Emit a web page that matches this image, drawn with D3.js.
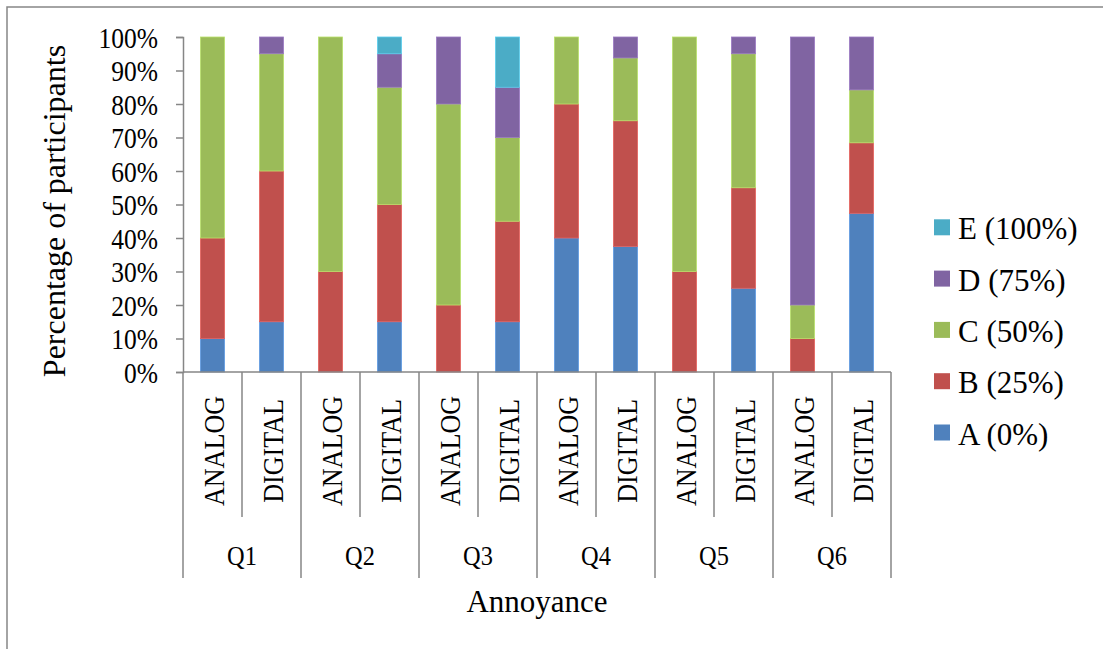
<!DOCTYPE html>
<html>
<head>
<meta charset="utf-8">
<script src="https://cdn.jsdelivr.net/npm/d3@7"></script>
<style>
  html, body { margin: 0; padding: 0; background: #ffffff; }
  svg { display: block; }
  text { font-family: "Liberation Serif", "Times New Roman", serif; fill: #000; }
</style>
</head>
<body>
<svg id="chart" width="1103" height="649"></svg>
<script>
// Questions and the two conditions asked for each
const groups = ["Q1", "Q2", "Q3", "Q4", "Q5", "Q6"];
const conditions = ["ANALOG", "DIGITAL"];

// Answer levels, bottom to top of each stack
const seriesNames = ["A (0%)", "B (25%)", "C (50%)", "D (75%)", "E (100%)"];
const seriesColors = ["#4F81BD", "#C0504D", "#9BBB59", "#8064A2", "#4BACC6"];

// Share of participants (%) per bar: Q1 ANALOG, Q1 DIGITAL, Q2 ANALOG, ...
const valuesA = [10, 15, 0, 15, 0, 15, 40, 37.5, 0, 25, 0, 47.37];
const valuesB = [30, 45, 30, 35, 20, 30, 40, 37.5, 30, 30, 10, 21.05];
const valuesC = [60, 35, 70, 35, 60, 25, 20, 18.75, 70, 40, 10, 15.79];
const valuesD = [0, 5, 0, 10, 20, 15, 0, 6.25, 0, 5, 80, 15.79];
const valuesE = [0, 0, 0, 5, 0, 15, 0, 0, 0, 0, 0, 0];

const yTicks = [0, 10, 20, 30, 40, 50, 60, 70, 80, 90, 100];

const seriesValues = [valuesA, valuesB, valuesC, valuesD, valuesE];

// One row per bar
const bars = [];
groups.forEach((g, gi) => {
  conditions.forEach((c, ci) => {
    const i = gi * conditions.length + ci;
    const row = { key: g + "|" + c, group: g, condition: c };
    seriesNames.forEach((s, si) => { row[s] = seriesValues[si][i]; });
    bars.push(row);
  });
});

const svg = d3.select("#chart");

const plot = { left: 183, right: 891, top: 37, bottom: 372 };
const axisColor = "#868686";

// Outer chart frame
svg.append("rect")
  .attr("x", 7).attr("y", 7)
  .attr("width", 1300).attr("height", 800)
  .attr("fill", "#fff")
  .attr("stroke", axisColor)
  .attr("stroke-width", 1.5);

const x = d3.scaleBand()
  .domain(bars.map(d => d.key))
  .range([plot.left, plot.right])
  .paddingInner(1 - 24 / 59)
  .paddingOuter((1 - 24 / 59) / 2);

const y = d3.scaleLinear().domain([0, 100]).range([plot.bottom, plot.top]);

const stack = d3.stack().keys(seriesNames);
const stacked = stack(bars);

// Stacked bars
const layers = svg.append("g").selectAll("g")
  .data(stacked)
  .join("g")
  .attr("fill", (d, i) => seriesColors[i])
  .attr("stroke", (d, i) => d3.color(seriesColors[i]).brighter(0.5))
  .attr("stroke-width", 0.8);

layers.selectAll("rect")
  .data(d => d.filter(s => s[1] - s[0] > 0))
  .join("rect")
  .attr("x", d => x(d.data.key))
  .attr("width", x.bandwidth())
  .attr("y", d => y(d[1]))
  .attr("height", d => y(d[0]) - y(d[1]));

// Y axis
const yAxis = svg.append("g")
  .attr("transform", `translate(${plot.left},0)`)
  .call(d3.axisLeft(y).tickValues(yTicks).tickSize(7).tickPadding(0).tickFormat(d => d + "%"));

yAxis.select(".domain").attr("stroke", axisColor).attr("stroke-width", 1.5);
yAxis.selectAll(".tick line").attr("stroke", axisColor).attr("stroke-width", 1.5);
yAxis.selectAll(".tick text")
  .attr("font-family", "Liberation Serif, Times New Roman, serif")
  .attr("font-size", 30)
  .attr("fill", "#000")
  .attr("x", -25 / 0.85)
  .attr("dy", "0.34em")
  .attr("transform", "scale(0.85,1)");

// X axis: baseline plus category dividers
const xAxis = svg.append("g");
xAxis.append("line")
  .attr("x1", plot.left).attr("x2", plot.right)
  .attr("y1", plot.bottom).attr("y2", plot.bottom)
  .attr("stroke", axisColor).attr("stroke-width", 1.5);

const step = x.step();
// dividers between ANALOG and DIGITAL inside each question
xAxis.selectAll("line.inner")
  .data(groups)
  .join("line")
  .attr("class", "inner")
  .attr("x1", (g) => x(g + "|DIGITAL") - x.paddingInner() * step / 2)
  .attr("x2", (g) => x(g + "|DIGITAL") - x.paddingInner() * step / 2)
  .attr("y1", plot.bottom).attr("y2", 517)
  .attr("stroke", axisColor).attr("stroke-width", 1.5);

// dividers between questions
const groupEdges = groups.map(g => x(g + "|ANALOG") - x.paddingInner() * step / 2);
groupEdges.push(plot.right);
xAxis.selectAll("line.outer")
  .data(groupEdges)
  .join("line")
  .attr("class", "outer")
  .attr("x1", d => d).attr("x2", d => d)
  .attr("y1", plot.bottom).attr("y2", 578)
  .attr("stroke", axisColor).attr("stroke-width", 1.5);

// Condition labels, rotated
xAxis.selectAll("text.cond")
  .data(bars)
  .join("text")
  .attr("class", "cond")
  .attr("text-anchor", "middle")
  .attr("font-size", 30)
  .attr("transform", d => `translate(${x(d.key) + x.bandwidth() / 2 + 11},451) rotate(-90) scale(0.87,1)`)
  .text(d => d.condition);

// Question labels
xAxis.selectAll("text.grp")
  .data(groups)
  .join("text")
  .attr("class", "grp")
  .attr("text-anchor", "middle")
  .attr("font-size", 28)
  .attr("transform", g => `translate(${x(g + "|DIGITAL") - x.paddingInner() * step / 2},565) scale(0.87,1)`)
  .text(g => g);

// Axis titles
svg.append("text")
  .attr("text-anchor", "middle")
  .attr("font-size", 32)
  .attr("transform", "translate(65,211) rotate(-90)")
  .text("Percentage of participants");

svg.append("text")
  .attr("text-anchor", "middle")
  .attr("font-size", 31)
  .attr("x", (plot.left + plot.right) / 2)
  .attr("y", 612)
  .text("Annoyance");

// Legend, top entry is the top of the stack
const legendOrder = seriesNames.map((s, i) => ({ name: s, color: seriesColors[i] })).reverse();
const legend = svg.append("g");
const rows = legend.selectAll("g")
  .data(legendOrder)
  .join("g")
  .attr("transform", (d, i) => `translate(934,${239.3 + i * 51.3})`);

rows.append("rect")
  .attr("x", 0).attr("y", -20)
  .attr("width", 16).attr("height", 16)
  .attr("fill", d => d.color);

rows.append("text")
  .attr("x", 24)
  .attr("y", 0)
  .attr("font-size", 31)
  .text(d => d.name);
</script>
</body>
</html>
